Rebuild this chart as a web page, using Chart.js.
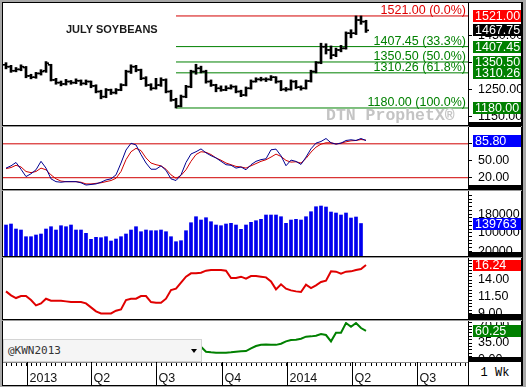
<!DOCTYPE html>
<html>
<head>
<meta charset="utf-8">
<title>July Soybeans</title>
<script src="https://cdn.jsdelivr.net/npm/chart.js@4.4.1/dist/chart.umd.min.js"></script>
<style>
html,body{margin:0;padding:0}
body{width:526px;height:387px;position:relative;overflow:hidden;background:#a8a8a8;font-family:"Liberation Sans",Arial,sans-serif}
.a{position:absolute}
.k{background:#000}
.g{background:#9a9a9a}
canvas{position:absolute;z-index:1}
.ov{z-index:3}
</style>
</head>
<body>
<div class="a" style="left:2px;top:2px;width:520px;height:383px;background:#fff"></div>

<script>
// ---------------- DATA ----------------
const FIRST_WEEK = '2012-12-03';           // week of the first bar
const QUARTER_DATES  = ['2013-01-01','2013-04-01','2013-07-01','2013-10-01','2014-01-01','2014-04-01','2014-07-01'];
const QUARTER_LABELS = ['2013','Q2','Q3','Q4','2014','Q2','Q3'];

const OPEN  = [1340,1333,1318,1323,1330,1299,1294,1308,1318,1340,1284,1274,1269,1278,1274,1281,1271,1278,1262,1241,1222,1247,1237,1247,1265,1315,1333,1321,1290,1265,1253,1265,1284,1241,1210,1187,1222,1259,1315,1327,1315,1278,1265,1253,1247,1253,1259,1241,1228,1253,1278,1286,1286,1286,1294,1278,1249,1249,1278,1257,1253,1280,1315,1348,1407,1395,1376,1395,1401,1457,1457,1506,1500];
const HIGH  = [1348,1338,1330,1340,1334,1305,1312,1322,1352,1342,1290,1280,1286,1282,1288,1284,1284,1280,1266,1246,1252,1250,1252,1270,1320,1340,1338,1324,1296,1270,1290,1292,1288,1246,1216,1228,1264,1320,1342,1335,1320,1284,1268,1262,1262,1266,1262,1246,1258,1284,1292,1294,1292,1300,1296,1282,1256,1284,1282,1262,1284,1320,1352,1420,1418,1410,1402,1412,1462,1470,1521,1521,1505];
const LOW   = [1325,1312,1314,1318,1292,1288,1290,1302,1312,1280,1268,1262,1265,1268,1270,1264,1266,1255,1236,1214,1218,1230,1232,1244,1262,1308,1314,1285,1260,1246,1250,1260,1236,1205,1180,1184,1218,1255,1305,1310,1272,1260,1240,1242,1244,1250,1236,1222,1224,1250,1276,1280,1278,1282,1272,1244,1242,1246,1252,1246,1250,1276,1310,1344,1380,1362,1370,1388,1398,1440,1452,1490,1460];
const CLOSE = [1333,1318,1323,1333,1299,1294,1308,1315,1346,1284,1274,1269,1278,1274,1281,1271,1278,1262,1241,1222,1247,1237,1247,1265,1315,1333,1321,1290,1265,1253,1265,1284,1241,1210,1187,1222,1259,1315,1327,1315,1278,1265,1253,1247,1253,1259,1241,1228,1253,1278,1286,1286,1286,1294,1278,1249,1249,1278,1257,1253,1280,1315,1348,1407,1395,1376,1395,1401,1457,1457,1506,1500,1467.75];

const FIB_LEVELS = [1521.00, 1407.45, 1350.50, 1310.26, 1180.00];
const FIB_PCTS   = ['0.0%', '33.3%', '50.0%', '61.8%', '100.0%'];

const STOCH_K = [37,41,47,35,22,27,34,49,37,18,13,12,13,13,13,11,7,8,9,12,16,18,25,46,69,81,78,61,46,35,35,41,33,18,15,25,47,62,66,71,64,59,55,49,43,42,37,39,34,43,49,52,53.5,69.4,70.6,58.8,41.2,51.2,48.8,43.5,56.5,71.2,81.2,84.1,89.4,81.8,79.4,81.2,85.9,87.1,85.9,89.4,85.8];
const STOCH_D = [36,38,42,39,31,29,31,37,34,25,18,14,13,13,13,12,9,9,10,11,13,15,19,31,52,66,72,68,55,46,43,41,35,25,19,24,34,49,61,66,65,61,55,51,46,43,40,39,37,41,45,49,51.8,56.5,61.8,57.6,50.6,47.6,48.2,45.9,54.1,65.3,74.1,79.4,81.8,81.8,80.0,81.2,83.5,85.3,85.9,87.6,86.5];
const STOCH_BANDS = [80, 20];

const VOLUME = [133300,137600,116100,111800,83000,83000,90300,94600,116100,126000,111800,130300,126000,133300,111800,111800,97600,71800,80400,78700,83000,64500,73100,83000,94600,111800,126000,104500,111800,108800,108800,111800,104500,83000,61500,65800,108800,143200,169000,154800,164700,147500,133300,130300,137600,140600,133300,114800,133300,144900,151800,157800,176300,176300,176300,169000,140600,154800,157800,154800,169000,190500,212000,215000,210700,189200,184900,176300,184900,163400,167700,139763];

const RED_STUDY = [12.3,11.7,11.3,11.6,11.6,11.0,10.2,10.5,11.2,10.9,10.9,10.9,10.8,10.7,10.7,10.7,10.5,9.9,9.3,9.0,9.0,9.0,9.4,9.6,11.0,11.2,11.2,11.6,11.6,10.7,10.6,10.6,11.2,12.5,12.7,13.6,14.5,15.0,15.0,15.1,15.4,15.5,15.5,15.5,15.4,14.3,14.3,14.5,14.2,14.6,14.6,14.5,14.4,13.8,12.6,13.35,12.7,12.45,12.3,12.2,13.3,12.8,13.2,13.7,13.9,15.3,15.25,14.95,15.25,15.3,15.5,15.65,16.24];
const GREEN_STUDY = [null,null,null,null,null,null,null,null,null,null,null,null,null,null,null,null,null,null,null,null,null,null,null,null,null,null,null,null,null,null,null,null,null,null,null,null,null,null,null,27.4,17.1,15.8,15.1,15.1,15.1,15.8,17.1,17.8,18.5,24.0,28.8,31.6,32.2,31.6,31.2,33.6,38.4,41.2,41.9,43.9,48.1,48.7,50.1,53.5,51.5,38.4,56.3,56.3,76.2,68.6,76.2,65.9,60.25];

const PRICE_TICKS = [1150,1250,1350,1450];
const STOCH_TICKS = [20,50,80];
const VOL_TICKS   = [20000,100000,180000];
const RED_TICKS   = [9,11.5,14,16.5];
const GREEN_TICKS = [0,35,70];

// ---------------- HELPERS ----------------
const DAY = 86400000;
const weekIndex = d => (Date.parse(d) - Date.parse(FIRST_WEEK)) / (7 * DAY);
const X_MIN = -0.6, X_MAX = 92.4;
const pts = arr => arr.map((v, i) => ({x: i, y: v}));
const last = arr => arr[arr.length - 1];
const FONT = '"Liberation Sans", Arial, sans-serif';

Chart.defaults.font.family = FONT;
Chart.defaults.font.size = 12.5;
Chart.defaults.color = '#000';

function minorTicks(from, to, step) {
  const out = [];
  for (let v = from; v <= to + 1e-9; v += step) out.push(Math.round(v * 1000) / 1000);
  return out;
}

function xAxis(show) {
  const weeks = minorTicks(0, 92, 1);
  return {
    type: 'linear', min: X_MIN, max: X_MAX, offset: false, display: show,
    grid: {display: show, drawOnChartArea: false, drawTicks: true, tickLength: 4, color: '#000', offset: false},
    border: {display: show, color: '#888'},
    ticks: {autoSkip: false, maxRotation: 0, callback: () => ''},
    afterBuildTicks: s => { s.ticks = weeks.map(v => ({value: v})); },
    afterFit: s => { s.height = show ? 23 : 0; s.paddingLeft = 0; s.paddingRight = 0; s.paddingTop = 0; s.paddingBottom = 0; }
  };
}

function yAxis(min, max, allTicks, major, fmt) {
  return {
    type: 'linear', position: 'right', min, max,
    afterBuildTicks: s => { s.ticks = allTicks.map(v => ({value: v})); },
    afterFit: s => { s.width = 54; s.paddingTop = 0; s.paddingBottom = 0; },
    grid: {drawOnChartArea: false, drawTicks: true, tickLength: 4, color: '#000'},
    border: {display: true, color: '#000'},
    ticks: {autoSkip: false, padding: 6, color: '#000', font: {size: 12.5},
      callback: v => major.some(m => Math.abs(m - v) < 1e-6) ? fmt(v) : ''}
  };
}

function boxesPlugin(boxes) {
  return {
    id: 'valueBoxes',
    afterDraw(chart) {
      const y = chart.scales.y, ca = chart.chartArea, ctx = chart.ctx;
      ctx.save();
      ctx.font = '12.5px ' + FONT;
      ctx.textAlign = 'left'; ctx.textBaseline = 'middle';
      boxes.forEach(b => {
        const py = Math.round(y.getPixelForValue(b.value));
        ctx.fillStyle = b.bg;
        ctx.fillRect(ca.right + 5, py - 6, 50, 12);
        ctx.fillStyle = '#fff';
        ctx.fillText(b.text, ca.right + 7, py + 0.5);
      });
      ctx.restore();
    }
  };
}

function mount(top, height) {
  const c = document.createElement('canvas');
  c.width = 519; c.height = height;
  c.style.left = '3px'; c.style.top = top + 'px';
  c.style.width = '519px'; c.style.height = height + 'px';
  document.body.appendChild(c);
  return c;
}

function baseOptions(scales) {
  return {
    responsive: false, animation: false, devicePixelRatio: 1, events: [],
    layout: {padding: 0, autoPadding: false},
    plugins: {legend: {display: false}, tooltip: {enabled: false}},
    elements: {line: {tension: 0}, point: {radius: 0}},
    scales
  };
}

const RED = '#ff0000', FIB_RED = '#d40000', GREEN = '#008000', BLUE = '#0000ff';

// ---------------- PANEL 1: price ----------------
const FIB_START = LOW.indexOf(Math.min(...LOW));
const fibPlugin = {
  id: 'fibLabels',
  afterDatasetsDraw(chart) {
    const y = chart.scales.y, ca = chart.chartArea, ctx = chart.ctx;
    ctx.save();
    ctx.font = '12.5px ' + FONT;
    ctx.textAlign = 'right'; ctx.textBaseline = 'alphabetic';
    FIB_LEVELS.forEach((lvl, i) => {
      ctx.fillStyle = i === 0 ? '#e00000' : GREEN;
      ctx.fillText(lvl.toFixed(2) + ' (' + FIB_PCTS[i] + ')', ca.right - 2, Math.round(y.getPixelForValue(lvl)) - 2.5);
    });
    ctx.restore();
  }
};
new Chart(mount(3, 122), {
  type: 'line',
  data: {datasets: [
    ...FIB_LEVELS.map((lvl, i) => ({
      type: 'line', data: [{x: FIB_START, y: lvl}, {x: X_MAX, y: lvl}],
      borderColor: i === 0 ? FIB_RED : GREEN, borderWidth: 1, pointRadius: 0, order: 10
    })),
    {type: 'bar', data: CLOSE.map((c, i) => ({x: i, y: [LOW[i], HIGH[i]]})),
      backgroundColor: '#000', barThickness: 2, grouped: false, order: 2},
    {type: 'line', showLine: false, data: OPEN.map((o, i) => ({x: i - 0.3, y: o})),
      pointStyle: 'line', pointRadius: 1.5, pointBorderWidth: 1.6, pointBorderColor: '#000', order: 1},
    {type: 'line', showLine: false, data: CLOSE.map((c, i) => ({x: i + 0.3, y: c})),
      pointStyle: 'line', pointRadius: 1.5, pointBorderWidth: 1.6, pointBorderColor: '#000', order: 1}
  ]},
  options: baseOptions({x: xAxis(false), y: yAxis(1117, 1569, PRICE_TICKS, PRICE_TICKS, v => v.toFixed(2))}),
  plugins: [fibPlugin, boxesPlugin([
    {value: FIB_LEVELS[0], text: FIB_LEVELS[0].toFixed(2), bg: RED},
    {value: last(CLOSE), text: last(CLOSE).toFixed(2), bg: '#000'},
    {value: FIB_LEVELS[1], text: FIB_LEVELS[1].toFixed(2), bg: GREEN},
    {value: FIB_LEVELS[2], text: FIB_LEVELS[2].toFixed(2), bg: GREEN},
    {value: FIB_LEVELS[3], text: FIB_LEVELS[3].toFixed(2), bg: GREEN},
    {value: FIB_LEVELS[4], text: FIB_LEVELS[4].toFixed(2), bg: GREEN}
  ])]
});

// ---------------- PANEL 2: stochastics ----------------
new Chart(mount(128, 61), {
  type: 'line',
  data: {datasets: [
    ...STOCH_BANDS.map(b => ({data: [{x: X_MIN, y: b}, {x: X_MAX, y: b}], borderColor: '#d00000', borderWidth: 1, order: 5})),
    {data: pts(STOCH_D), borderColor: '#d00000', borderWidth: 1, order: 2},
    {data: pts(STOCH_K), borderColor: '#000090', borderWidth: 1, order: 1}
  ]},
  options: baseOptions({x: xAxis(false), y: yAxis(0, 108, STOCH_TICKS, STOCH_TICKS, v => v.toFixed(2))}),
  plugins: [boxesPlugin([{value: last(STOCH_K), text: last(STOCH_K).toFixed(2), bg: BLUE}])]
});

// ---------------- PANEL 3: volume ----------------
new Chart(mount(193, 63), {
  type: 'line',
  data: {datasets: [
    {type: 'bar', data: pts(VOLUME), backgroundColor: '#0000ee', barThickness: 3, grouped: false}
  ]},
  options: baseOptions({x: xAxis(false), y: yAxis(0, 271000, minorTicks(4000, 260000, 16000), VOL_TICKS, v => String(v))}),
  plugins: [boxesPlugin([{value: last(VOLUME), text: String(last(VOLUME)), bg: BLUE}])]
});

// ---------------- PANEL 4: red study ----------------
new Chart(mount(260, 59), {
  type: 'line',
  data: {datasets: [{data: pts(RED_STUDY), borderColor: '#e00000', borderWidth: 2}]},
  options: baseOptions({x: xAxis(false), y: yAxis(8.16, 17.0, minorTicks(8.5, 17, 0.5), RED_TICKS, v => v.toFixed(2))}),
  plugins: [boxesPlugin([{value: last(RED_STUDY), text: last(RED_STUDY).toFixed(2), bg: RED}])]
});

// ---------------- PANEL 5: green study + time axis ----------------
const quarterPlugin = {
  id: 'quarters',
  afterDraw(chart) {
    const xs = chart.scales.x, ca = chart.chartArea, ctx = chart.ctx;
    ctx.save();
    ctx.strokeStyle = '#000'; ctx.lineWidth = 1;
    ctx.fillStyle = '#111'; ctx.font = '12.5px ' + FONT;
    ctx.textAlign = 'left'; ctx.textBaseline = 'alphabetic';
    QUARTER_DATES.forEach((d, i) => {
      const px = Math.round(xs.getPixelForValue(weekIndex(d))) + 0.5;
      if (px > ca.right) return;
      ctx.beginPath(); ctx.moveTo(px, ca.bottom); ctx.lineTo(px, chart.height); ctx.stroke();
      ctx.fillText(QUARTER_LABELS[i], px + 2, ca.bottom + 19.5);
    });
    ctx.restore();
  }
};
new Chart(mount(322, 63), {
  type: 'line',
  data: {datasets: [{data: pts(GREEN_STUDY), borderColor: GREEN, borderWidth: 2}]},
  options: baseOptions({x: xAxis(true), y: yAxis(-4.1, 78.3, minorTicks(0, 77, 7), GREEN_TICKS, v => v.toFixed(2))}),
  plugins: [quarterPlugin, boxesPlugin([{value: last(GREEN_STUDY), text: last(GREEN_STUDY).toFixed(2), bg: GREEN}])]
});
</script>

<!-- frame lines -->
<div class="a ov k" style="left:2px;top:2px;width:521px;height:1px"></div>
<div class="a ov k" style="left:2px;top:2px;width:1px;height:384px"></div>
<div class="a ov k" style="left:521px;top:2px;width:2px;height:384px"></div>
<div class="a ov k" style="left:2px;top:385px;width:521px;height:1px"></div>
<div class="a ov k" style="left:468px;top:2px;width:1px;height:384px"></div>

<div class="a ov k" style="left:2px;top:125px;width:520px;height:1px"></div>
<div class="a ov g" style="left:2px;top:126px;width:520px;height:1px"></div>
<div class="a ov k" style="left:2px;top:189px;width:520px;height:1px"></div>
<div class="a ov g" style="left:2px;top:190px;width:520px;height:1px"></div>
<div class="a ov k" style="left:2px;top:256px;width:520px;height:1px"></div>
<div class="a ov g" style="left:2px;top:257px;width:520px;height:1px"></div>
<div class="a ov k" style="left:2px;top:319px;width:520px;height:1px"></div>
<div class="a ov g" style="left:2px;top:320px;width:520px;height:1px"></div>

<div class="a ov k" style="left:469px;top:122px;width:52px;height:5px"></div>
<div class="a ov k" style="left:469px;top:185px;width:52px;height:5px"></div>
<div class="a ov k" style="left:469px;top:252px;width:52px;height:5px"></div>
<div class="a ov k" style="left:469px;top:314px;width:52px;height:6px"></div>
<div class="a ov k" style="left:469px;top:357px;width:52px;height:5px"></div>

<!-- texts -->
<div class="a ov" style="left:66px;top:23px;font:bold 11px/13px 'Liberation Sans',Arial,sans-serif;color:#1a1a1a;white-space:nowrap">JULY SOYBEANS</div>
<div class="a ov" style="left:326px;top:107px;font:bold 16.5px/17px 'Liberation Mono',monospace;color:#c4c4c4;white-space:nowrap">DTN ProphetX®</div>

<div class="a ov" style="left:3px;top:339px;width:197px;height:21px;background:#f5f5f5;border:1px solid #d4d4d4;font:11px/21px 'DejaVu Sans Mono',monospace;color:#333;white-space:nowrap">
  <span style="position:absolute;left:4px">@KWN2013</span>
  <span style="position:absolute;left:187px;top:9px;width:0;height:0;border-left:3.5px solid transparent;border-right:3.5px solid transparent;border-top:4px solid #000"></span>
</div>

<div class="a ov" style="left:469px;top:362px;width:52px;height:23px;background:#fff;font:12px/23px 'Liberation Mono',monospace;color:#000;text-align:center;white-space:nowrap">1 Wk</div>
</body>
</html>
